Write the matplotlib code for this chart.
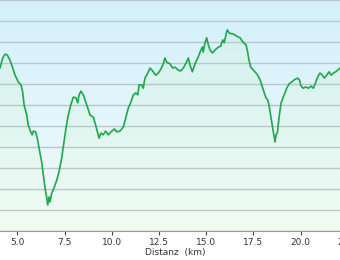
import numpy as np
import matplotlib
matplotlib.use("Agg")
import matplotlib.pyplot as plt
from matplotlib.colors import LinearSegmentedColormap

# elevation profile (km, m)
dist_km = [4.08, 4.23, 4.35, 4.47, 4.61, 4.76, 4.88, 5.05, 5.20, 5.29, 5.36, 5.50, 5.58,
           5.71, 5.79, 5.85, 5.97, 6.06, 6.17, 6.29, 6.38, 6.47, 6.56, 6.61, 6.68, 6.73,
           6.82, 6.94, 7.09, 7.23, 7.35, 7.47, 7.58, 7.70, 7.83, 7.97, 8.11, 8.20, 8.27,
           8.37, 8.50, 8.59, 8.73, 8.85, 9.03, 9.15, 9.26, 9.33, 9.43, 9.55, 9.68, 9.82,
           9.96, 10.14, 10.27, 10.44, 10.62, 10.74, 10.88, 11.02, 11.14, 11.27, 11.38,
           11.45, 11.59, 11.67, 11.76, 11.91, 12.03, 12.17, 12.33, 12.47, 12.61, 12.73,
           12.82, 12.91, 13.09, 13.23, 13.35, 13.53, 13.65, 13.79, 13.94, 14.06, 14.15,
           14.27, 14.41, 14.56, 14.68, 14.80, 14.85, 14.94, 15.03, 15.12, 15.21, 15.33,
           15.47, 15.65, 15.77, 15.88, 15.96, 16.05, 16.12, 16.23, 16.44, 16.62, 16.80,
           16.94, 17.12, 17.20, 17.27, 17.36, 17.50, 17.59, 17.73, 17.86, 17.98, 18.08,
           18.17, 18.26, 18.33, 18.39, 18.47, 18.56, 18.65, 18.70, 18.77, 18.82, 18.88,
           18.97, 19.09, 19.18, 19.27, 19.39, 19.54, 19.67, 19.85, 19.94, 20.03, 20.15,
           20.28, 20.42, 20.56, 20.68, 20.77, 20.91, 21.03, 21.16, 21.26, 21.39, 21.51,
           21.62, 21.74, 21.86, 21.97, 22.09, 22.20]
elev_m = [588, 612, 621, 619, 607, 588, 571, 555, 548, 529, 500, 476, 452,
          436, 429, 438, 436, 421, 393, 364, 333, 302, 279, 262, 281, 269,
          290, 302, 321, 345, 374, 412, 445, 476, 500, 519, 517, 505, 524,
          533, 524, 512, 493, 476, 471, 452, 433, 421, 433, 429, 438, 429,
          436, 443, 436, 438, 448, 469, 493, 507, 524, 529, 524,
          548, 548, 540, 564, 576, 588, 581, 571, 576, 586, 598,
          612, 602, 598, 588, 590, 583, 581, 588, 600, 612, 595,
          579, 598, 612, 626, 638, 626, 648, 660, 643, 631, 624,
          631, 638, 640, 655, 648, 667, 679, 671, 669, 664, 660,
          650, 643, 626, 607, 590, 583, 579, 571, 560, 543, 529,
          517, 512, 500, 483, 460, 436, 412, 429, 433, 452, 476,
          505, 519, 529, 540, 550, 555, 560, 564, 560, 545, 540,
          543, 540, 545, 540, 550, 567, 576, 571, 564, 571, 579,
          571, 576, 579, 583, 588, 590]
xticks = [5.0, 7.5, 10.0, 12.5, 15.0, 17.5, 20.0, 22.5]
ygrid = list(range(200, 751, 50))

x0, x1, y0, y1 = 1.965, 24.21, 200, 750

fig = plt.figure(figsize=(3.4, 2.6), dpi=100)
ax = fig.add_axes([-40/340, 29/260, 420/340, 231/260])
ax.set_xlim(x0, x1)
ax.set_ylim(y0, y1)

grad = np.linspace(0, 1, 256).reshape(-1, 1)
# sky gradient behind everything
bg = LinearSegmentedColormap.from_list("bg", ["#f4fbfd", "#d3f0fb"])
ax.imshow(grad, cmap=bg, aspect="auto", extent=[x0, x1, y0, y1],
          origin="lower", zorder=0)

# gradient fill under the profile
fill = ax.fill_between(dist_km, elev_m, y0, color="none", lw=0, zorder=1)
fg = LinearSegmentedColormap.from_list("fg", ["#f0fcf3", "#d0efee"])
im = ax.imshow(grad, cmap=fg, aspect="auto", extent=[x0, x1, y0, y1],
               origin="lower", zorder=1)
im.set_clip_path(fill.get_paths()[0], transform=ax.transData)

for g in ygrid:
    ax.axhline(g, color="#b9c6ca", lw=1.0, zorder=2)
ax.plot(dist_km, elev_m, color="#1fa84a", lw=1.2, zorder=3)

for s in ["top", "left", "right"]:
    ax.spines[s].set_visible(False)
ax.spines["bottom"].set_color("#9a9a9a")
ax.set_yticks([])
ax.set_xticks(xticks)
ax.set_xticklabels([f"{t:.1f}" for t in xticks])
ax.tick_params(axis="x", length=3, width=0.8, color="#444444", labelsize=6.5,
               labelcolor="#333333", pad=2)
fig.text(175/340, 1 - 253/260, "Distanz  (km)", ha="center", va="center",
         fontsize=6.5, color="#333333")

fig.savefig("out.png", dpi=100)
